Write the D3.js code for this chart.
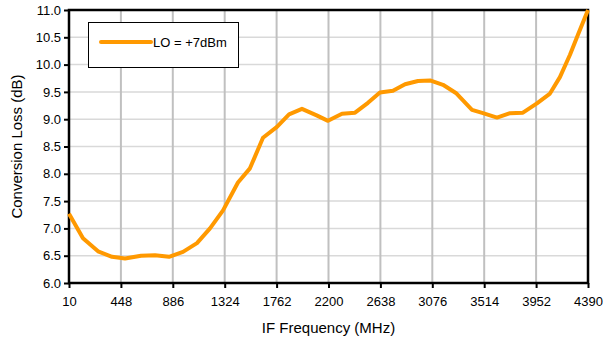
<!DOCTYPE html>
<html>
<head>
<meta charset="utf-8">
<script src="https://cdn.jsdelivr.net/npm/d3@7"></script>
<style>
  body { margin: 0; background: #fff; }
  text { font-family: "Liberation Sans", Arial, sans-serif; fill: #000; }
</style>
</head>
<body>
<div id="chart"></div>
<script>
// IF frequency (MHz) and conversion loss (dB)
const freqMHz = [10, 128, 255, 373, 483, 618, 736, 854, 972, 1090,
                 1200, 1310, 1436, 1537, 1647, 1765, 1867, 1976, 2100, 2196,
                 2314, 2424, 2533, 2634, 2744, 2846, 2955, 3057, 3166, 3275,
                 3411, 3504, 3622, 3732, 3841, 3959, 4069, 4153, 4238, 4306, 4390];
const lossDb = [7.27, 6.82, 6.58, 6.48, 6.45, 6.50, 6.51, 6.48, 6.57, 6.73,
                7.00, 7.33, 7.84, 8.10, 8.66, 8.86, 9.09, 9.19, 9.07, 8.97,
                9.10, 9.12, 9.30, 9.49, 9.52, 9.64, 9.70, 9.71, 9.63, 9.48,
                9.17, 9.11, 9.03, 9.11, 9.12, 9.29, 9.47, 9.77, 10.18, 10.55, 11.0];
const xTicks = [10, 448, 886, 1324, 1762, 2200, 2638, 3076, 3514, 3952, 4390];
const yTicks = [6.0, 6.5, 7.0, 7.5, 8.0, 8.5, 9.0, 9.5, 10.0, 10.5, 11.0];
const seriesName = 'LO = +7dBm';

const width = 603, height = 341;
const margin = {left: 69, right: 15, top: 10, bottom: 58};
const innerW = width - margin.left - margin.right;
const innerH = height - margin.top - margin.bottom;

const svg = d3.select('#chart').append('svg')
    .attr('width', width)
    .attr('height', height);

const x = d3.scaleLinear().domain([10, 4390]).range([margin.left, margin.left + innerW]);
const y = d3.scaleLinear().domain([6, 11]).range([margin.top + innerH, margin.top]);

// gridlines
svg.append('g').selectAll('line').data(yTicks).join('line')
    .attr('x1', margin.left).attr('x2', margin.left + innerW)
    .attr('y1', d => y(d)).attr('y2', d => y(d))
    .attr('stroke', '#d9d9d9').attr('stroke-width', 1.5);
svg.append('g').selectAll('line').data(xTicks).join('line')
    .attr('x1', d => x(d)).attr('x2', d => x(d))
    .attr('y1', margin.top).attr('y2', margin.top + innerH)
    .attr('stroke', '#c0c0c0').attr('stroke-width', 2);

// axes
const xAxis = svg.append('g')
    .attr('transform', `translate(0,${margin.top + innerH})`)
    .call(d3.axisBottom(x).tickValues(xTicks).tickFormat(d3.format('d')).tickSize(5).tickPadding(9));
const yAxis = svg.append('g')
    .attr('transform', `translate(${margin.left},0)`)
    .call(d3.axisLeft(y).tickValues(yTicks).tickFormat(d3.format('.1f')).tickSize(5).tickPadding(3));
[xAxis, yAxis].forEach(a => {
    a.select('.domain').remove();
    a.selectAll('line').attr('stroke', '#000').attr('stroke-width', 2);
    a.selectAll('text').style('font-size', '13px');
});

// plot border
svg.append('rect')
    .attr('x', margin.left).attr('y', margin.top)
    .attr('width', innerW).attr('height', innerH)
    .attr('fill', 'none').attr('stroke', '#000').attr('stroke-width', 2.5);

// series
const line = d3.line().x((d, i) => x(freqMHz[i])).y(d => y(d));
svg.append('path')
    .datum(lossDb)
    .attr('d', line)
    .attr('fill', 'none')
    .attr('stroke', '#ff9900')
    .attr('stroke-width', 4)
    .attr('stroke-linejoin', 'round');

// legend
const lg = svg.append('g');
lg.append('rect')
    .attr('x', 88.5).attr('y', 22.5).attr('width', 150).attr('height', 45)
    .attr('fill', '#fff').attr('stroke', '#000').attr('stroke-width', 1);
lg.append('line')
    .attr('x1', 101).attr('x2', 151).attr('y1', 42).attr('y2', 42)
    .attr('stroke', '#ff9900').attr('stroke-width', 4).attr('stroke-linecap', 'round');
lg.append('text')
    .attr('x', 153).attr('y', 47)
    .style('font-size', '13px')
    .text(seriesName);

// axis titles
svg.append('text')
    .attr('x', margin.left + innerW / 2).attr('y', 333)
    .attr('text-anchor', 'middle')
    .style('font-size', '15px')
    .text('IF Frequency (MHz)');
svg.append('text')
    .attr('transform', `translate(22,${margin.top + innerH / 2}) rotate(-90)`)
    .attr('text-anchor', 'middle')
    .style('font-size', '15px')
    .text('Conversion Loss (dB)');
</script>
</body>
</html>
